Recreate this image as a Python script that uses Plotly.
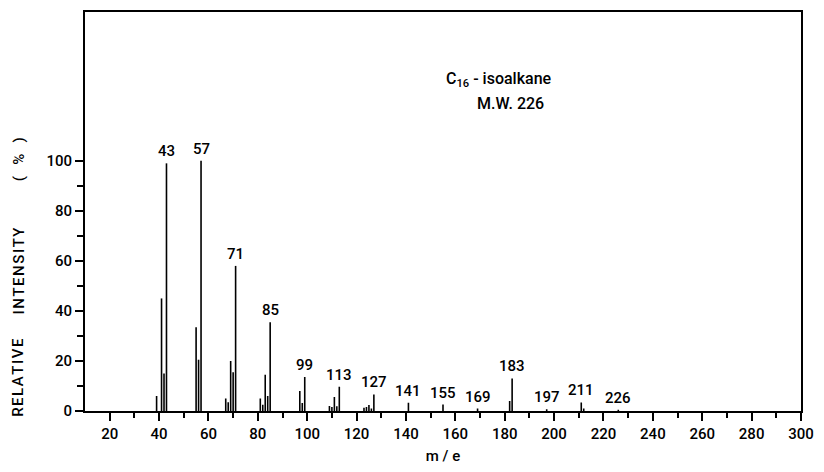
import plotly.graph_objects as go

# Mass spectrum of a C16 isoalkane: m/e values and relative intensities (%)
mz = [39, 41, 42, 43, 55, 56, 57, 67, 68, 69, 70, 71,
      81, 82, 83, 84, 85, 97, 98, 99, 109, 110, 111, 112, 113,
      123, 124, 125, 126, 127, 141, 155, 169, 182, 183, 197, 211, 212, 226]
intensity = [6, 45, 15, 99, 33.5, 20.5, 100, 5, 3.5, 20, 15.5, 58,
             5, 2.5, 14.5, 6, 35.5, 8, 3.2, 13.6, 2, 1.6, 5.6, 1.9, 9.7,
             1.3, 1.6, 2.4, 1, 6.6, 3.3, 2.6, 1, 4, 13, 0.7, 3.4, 1, 0.5]

# Peaks that carry an m/e label
labelled = [43, 57, 71, 85, 99, 113, 127, 141, 155, 169, 183, 197, 211, 226]

x_major = list(range(20, 301, 20))
x_minor = list(range(30, 300, 20))
y_major = [0, 20, 40, 60, 80, 100]
y_minor = [10, 30, 50, 70, 90]

# words of the vertical caption and the intensity level each one is centred on
y_caption = ["RELATIVE", "INTENSITY", "(   %   )"]
y_caption_at = [13.5, 56, 100.5]

FAMILY = "Roboto, DejaVu Sans, sans-serif"
txt = dict(family=FAMILY, size=15, color="black", weight=500)
head = dict(family=FAMILY, size=16, color="black", weight=500)

HAIR = "\u200a"  # spaced-out lettering of the vertical caption

# stick spectrum as one polyline broken by gaps
xs, ys = [], []
for m, v in zip(mz, intensity):
    xs += [m, m, None]
    ys += [0, v, None]

fig = go.Figure()
fig.add_trace(go.Scatter(x=xs, y=ys, mode="lines",
                         line=dict(color="black", width=1.6),
                         hoverinfo="skip", showlegend=False))

peak = dict(zip(mz, intensity))
for m in labelled:
    fig.add_annotation(x=m, y=peak[m], text=str(m), showarrow=False,
                       yanchor="bottom", yshift=1, font=txt)

fig.add_annotation(x=177.5, y=132.5, text="C<sub>16</sub> - isoalkane",
                   showarrow=False, font=head)
fig.add_annotation(x=182.5, y=123, text="M.W. 226",
                   showarrow=False, font=head)

for word, level in zip(y_caption, y_caption_at):
    spaced = word if "%" in word else HAIR.join(word)
    fig.add_annotation(x=-0.0927, xref="paper", xanchor="center",
                       y=level, yref="y", yanchor="middle",
                       text=spaced, textangle=-90, showarrow=False,
                       font=dict(family=FAMILY, size=15, color="black", weight=500))

fig.update_xaxes(range=[10, 300], tickvals=x_major, ticks="outside",
                 ticklen=8, tickwidth=2, tickcolor="black",
                 minor=dict(tickvals=x_minor, ticks="outside", ticklen=5,
                            tickwidth=2, tickcolor="black"),
                 showline=True, linewidth=2, linecolor="black", mirror=True,
                 showgrid=False, zeroline=False, tickfont=txt,
                 title=dict(text="m / e", font=txt, standoff=8))
fig.update_yaxes(range=[0, 159.5], tickvals=y_major, ticks="outside",
                 ticklen=8, tickwidth=2, tickcolor="black",
                 minor=dict(tickvals=y_minor, ticks="outside", ticklen=6,
                            tickwidth=2, tickcolor="black"),
                 showline=True, linewidth=2, linecolor="black", mirror=True,
                 showgrid=False, zeroline=False, tickfont=txt)

fig.update_layout(width=824, height=472,
                  margin=dict(l=85, r=16, t=10, b=61),
                  paper_bgcolor="white", plot_bgcolor="white",
                  font=dict(family=FAMILY, color="black"))

fig.write_html("out.html")
